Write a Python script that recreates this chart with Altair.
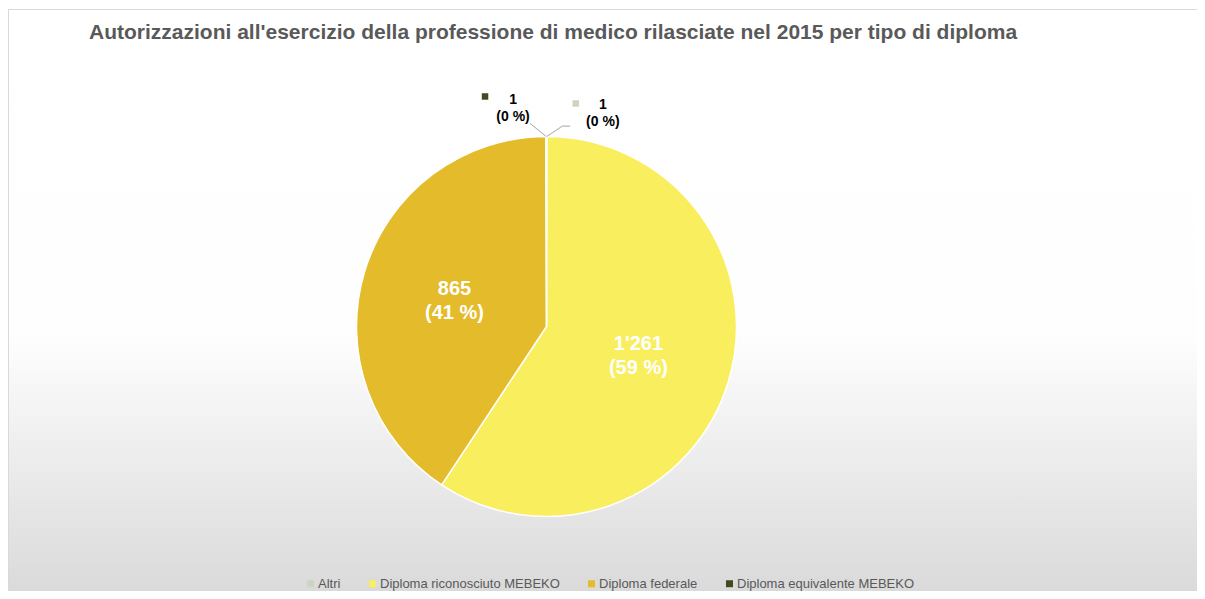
import math
import altair as alt
import pandas as pd

# ---------------- data ----------------
categories = ["Altri", "Diploma riconosciuto MEBEKO", "Diploma federale", "Diploma equivalente MEBEKO"]
values = [1, 1261, 865, 1]
colors = ["#CDD5C2", "#F9EE5D", "#E4BB2A", "#414C1E"]
title_text = ["Autorizzazioni all'esercizio della professione di medico rilasciate nel 2015 per tipo di diploma"]

# ---------------- layout / style ----------------
W, H = 1189, 583
CX, CY = 538.5, 318.5
R = 190
FONT = "Liberation Sans"
GREY = "#595959"

total = sum(values)


def fmt(v):
    return f"{v:,}".replace(",", "'")


pcts = [round(v / total * 100) for v in values]
labels = [f"{fmt(v)}\n({p} %)" for v, p in zip(values, pcts)]
inner = [l if p >= 5 else "" for l, p in zip(labels, pcts)]

df = pd.DataFrame({"cat": categories, "value": values,
                   "ord": list(range(len(values))), "inner": inner})

# outside labels for tiny slices (leader lines derived from slice angles)
STYLE = {
    1: dict(da=4.4, r=201, tail=8, text=(32.6, 21.0), sq=(5.6, 22.6)),
    -1: dict(da=-4.6, r=204, tail=0, text=(-16.8, 23.5), sq=(-44.8, 26.7)),
}
line_rows, sq_rows, txt_rows = [], [], []
cum = 0
for c, v, p, l, col in zip(categories, values, pcts, labels, colors):
    mid = (cum + v / 2) / total * 360
    cum += v
    if p >= 5:
        continue
    side = 1 if mid < 180 else -1
    s = STYLE[side]
    a0 = math.radians(mid)
    a1 = math.radians(mid + s["da"])
    p0 = (R * math.sin(a0), R * math.cos(a0))
    p1 = (s["r"] * math.sin(a1), s["r"] * math.cos(a1))
    p2 = (p1[0] + side * s["tail"], p1[1])
    for k, pt in enumerate([p0, p1, p2]):
        line_rows.append({"cat": c, "step": k, "x": pt[0], "y": pt[1]})
    sq_rows.append({"cat": c, "hex": col, "x": p2[0] + s["sq"][0], "y": p2[1] + s["sq"][1]})
    txt_rows.append({"cat": c, "t": l, "x": p2[0] + s["text"][0], "y": p2[1] + s["text"][1]})

line_df = pd.DataFrame(line_rows)
sq_df = pd.DataFrame(sq_rows)
txt_df = pd.DataFrame(txt_rows)

xs = alt.Scale(domain=[-CX, W - CX], nice=False, zero=False)
ys = alt.Scale(domain=[-(H - CY), CY], nice=False, zero=False)

# ---------------- layers ----------------
bg = alt.Chart(pd.DataFrame({"k": [0]})).mark_rect(
    fill=alt.LinearGradient(
        gradient="linear",
        stops=[alt.GradientStop(color="#FFFFFF", offset=0),
               alt.GradientStop(color="#FEFEFE", offset=0.56),
               alt.GradientStop(color="#DADADA", offset=1)],
        x1=0, x2=0, y1=0, y2=1),
    strokeWidth=0,
).encode(x=alt.value(0), x2=alt.value(W + 20), y=alt.value(0), y2=alt.value(H))

frame_top = alt.Chart(pd.DataFrame({"k": [0]})).mark_rule(color="#D9D9D9", strokeWidth=1).encode(
    x=alt.value(0), x2=alt.value(W + 20), y=alt.value(1.5))
frame_left = alt.Chart(pd.DataFrame({"k": [0]})).mark_rule(color="#D9D9D9", strokeWidth=1).encode(
    x=alt.value(0.5), y=alt.value(1), y2=alt.value(H))

theta = alt.Theta("value:Q", stack=True)
order = alt.Order("ord:Q")

arc = alt.Chart(df).mark_arc(outerRadius=R, stroke="white", strokeWidth=1.5).encode(
    theta=theta,
    order=order,
    color=alt.Color(
        "cat:N",
        scale=alt.Scale(domain=categories, range=colors),
        legend=alt.Legend(
            title=None, orient="none", legendX=296, legendY=569,
            direction="horizontal", symbolType="square", symbolSize=49,
            symbolStrokeWidth=0, labelFontSize=13, labelColor=GREY,
            labelFont=FONT, columnPadding=25, labelOffset=1, padding=0,
            labelLimit=0,
        ),
    ),
    x=alt.value(CX), y=alt.value(CY),
)

inner_text = alt.Chart(df).mark_text(
    radius=96, dy=-10, fontSize=20, fontWeight="bold", color="white",
    lineBreak="\n", lineHeight=24, font=FONT, align="center", baseline="middle",
).encode(
    theta=theta, order=order, detail="cat:N", text="inner:N",
    x=alt.value(CX), y=alt.value(CY),
)

leader = alt.Chart(line_df).mark_line(color="#A6A6A6", strokeWidth=1).encode(
    x=alt.X("x:Q", scale=xs, axis=None),
    y=alt.Y("y:Q", scale=ys, axis=None),
    detail="cat:N",
    order=alt.Order("step:Q"),
)

squares = alt.Chart(sq_df).mark_square(size=42, opacity=1, strokeWidth=0).encode(
    x=alt.X("x:Q", scale=xs, axis=None),
    y=alt.Y("y:Q", scale=ys, axis=None),
    color=alt.Color("hex:N", scale=None),
)

out_text = alt.Chart(txt_df).mark_text(
    fontSize=14, fontWeight="bold", color="#000000", lineBreak="\n",
    lineHeight=17, font=FONT, align="center", baseline="middle",
).encode(
    x=alt.X("x:Q", scale=xs, axis=None),
    y=alt.Y("y:Q", scale=ys, axis=None),
    text="t:N",
)

title = alt.Chart(pd.DataFrame({"t": title_text})).mark_text(
    align="left", baseline="middle", fontSize=21, fontWeight="bold",
    color=GREY, font=FONT,
).encode(text="t:N", x=alt.value(81), y=alt.value(25))

chart = alt.layer(bg, frame_top, frame_left, arc, inner_text, leader, squares,
                  out_text, title).properties(
    width=W, height=H, padding=0, autosize=alt.AutoSizeParams(type="none"),
).configure_view(strokeWidth=0)

chart.save("out.html", embed_options={"renderer": "svg", "actions": False})
